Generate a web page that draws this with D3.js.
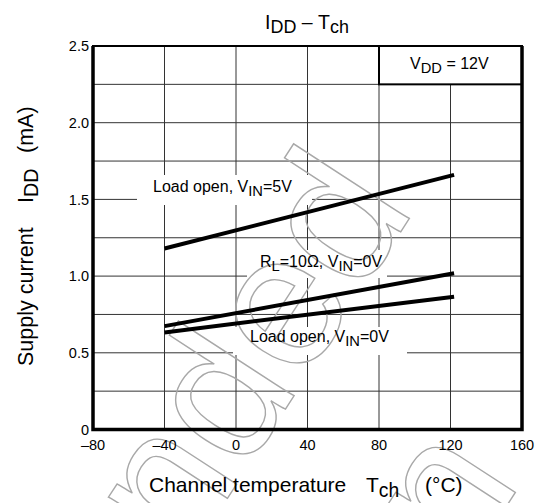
<!DOCTYPE html>
<html>
<head>
<meta charset="utf-8">
<script src="https://d3js.org/d3.v7.min.js"></script>
<style>
  body { margin: 0; background: #fff; }
  svg { font-family: "Liberation Sans", Arial, sans-serif; }
</style>
</head>
<body>
<div id="chart"></div>
<script>
// values
const temps = [-40, 122];
const loadOpen5V = [1.18, 1.66];
const rl10Ohm = [0.674, 1.018];
const loadOpen0V = [0.633, 0.866];

const xTicks = [-80, -40, 0, 40, 80, 120, 160];
const yTicks = [0, 0.25, 0.5, 0.75, 1.0, 1.25, 1.5, 1.75, 2.0, 2.25, 2.5];
const yLabels = [0, 0.5, 1.0, 1.5, 2.0, 2.5];

const W = 539, H = 503;
const m = { left: 93, right: 17, top: 46, bottom: 73.5 };

const svg = d3.select("#chart").append("svg")
    .attr("width", W).attr("height", H);

const x = d3.scaleLinear().domain([-80, 160]).range([m.left, W - m.right]);
const y = d3.scaleLinear().domain([0, 2.5]).range([H - m.bottom, m.top]);

// grid
const grid = svg.append("g").attr("stroke", "#333").attr("stroke-width", 1);
grid.selectAll("line.v").data(xTicks.slice(1, -1)).join("line")
    .attr("x1", d => x(d)).attr("x2", d => x(d))
    .attr("y1", y(0)).attr("y2", y(2.5));
grid.selectAll("line.h").data(yTicks.slice(1, -1)).join("line")
    .attr("x1", x(-80)).attr("x2", x(160))
    .attr("y1", d => y(d)).attr("y2", d => y(d));

// white boxes behind labels (they hide the grid)
const boxes = [
  [137, 175, 175, 30],
  [247, 250, 140, 28],
  [233, 327, 174, 28]
];
svg.selectAll("rect.lbl").data(boxes).join("rect")
    .attr("x", d => d[0]).attr("y", d => d[1])
    .attr("width", d => d[2]).attr("height", d => d[3])
    .attr("fill", "#fff");

// watermark (outlined, light grey)
const wm = svg.append("g")
    .attr("fill", "none").attr("stroke", "#a8a8a8").attr("stroke-width", 1.4)
    .attr("font-size", 190).attr("text-anchor", "end");
wm.append("text").attr("transform", "translate(416,208) rotate(-57)")
    .text("Not recommended");
wm.append("text").attr("transform", "translate(522,482) rotate(-57)")
    .text("for new design");

// VDD box
svg.append("rect")
    .attr("x", x(80)).attr("y", y(2.5))
    .attr("width", x(160) - x(80)).attr("height", y(2.25) - y(2.5))
    .attr("fill", "#fff").attr("stroke", "#000").attr("stroke-width", 2);

// frame
svg.append("rect")
    .attr("x", x(-80)).attr("y", y(2.5))
    .attr("width", x(160) - x(-80)).attr("height", y(0) - y(2.5))
    .attr("fill", "none").attr("stroke", "#000").attr("stroke-width", 2);
svg.append("path")
    .attr("d", `M${x(-80)},${y(2.5)}V${y(0)}H${x(160)}V${y(2.5)}`)
    .attr("fill", "none").attr("stroke", "#000").attr("stroke-width", 3.5);

// curves
const line = d3.line().x(d => x(d[0])).y(d => y(d[1]));
[loadOpen5V, rl10Ohm, loadOpen0V].forEach(s => {
  svg.append("path")
      .attr("d", line(temps.map((t, i) => [t, s[i]])))
      .attr("fill", "none").attr("stroke", "#000").attr("stroke-width", 4);
});

// tick labels
svg.append("g").selectAll("text").data(yLabels).join("text")
    .attr("x", m.left - 4).attr("y", d => y(d)).attr("dy", "0.36em")
    .attr("text-anchor", "end").attr("font-size", 14.5)
    .text(d => d === 0 ? "0" : d.toFixed(1));
svg.append("g").selectAll("text").data(xTicks).join("text")
    .attr("x", d => x(d)).attr("y", y(0) + 20.5)
    .attr("text-anchor", "middle").attr("font-size", 14.5)
    .text(d => d < 0 ? "\u2013" + Math.abs(d) : d);

// helper for text with subscripts: parts = [[text, sub?, back?], ...]
function richText(sel, parts, size) {
  parts.forEach(p => {
    const t = sel.append("tspan").text(p[0]);
    if (p[1]) t.attr("font-size", size * 0.92).attr("dy", size * 0.22);
    else if (p[2]) t.attr("dy", -size * 0.22);
  });
  return sel;
}

// title
richText(svg.append("text").attr("x", 265).attr("y", 29).attr("font-size", 19.5),
  [["I"], ["DD", 1], ["\u00a0\u2013\u00a0T", 0, 1], ["ch", 1]], 19.5);

// y axis label (pieces placed like in the reference)
const yl = svg.append("g").attr("transform", "translate(33,0) rotate(-90)")
    .attr("font-size", 21.5);
yl.append("text").attr("x", -366).text("Supply current");
richText(yl.append("text").attr("x", -203), [["I"], ["DD", 1]], 21.5);
yl.append("text").attr("x", -153).text("(mA)");

// x axis label
const xl = svg.append("g").attr("font-size", 21);
xl.append("text").attr("x", 149).attr("y", 492).text("Channel temperature");
richText(xl.append("text").attr("x", 366).attr("y", 492), [["T"], ["ch", 1]], 21);
xl.append("text").attr("x", 425).attr("y", 492).text("(\u00b0C)");

// curve labels
richText(svg.append("text").attr("x", 153).attr("y", 192).attr("font-size", 16),
  [["Load open, V"], ["IN", 1], ["=5V", 0, 1]], 16);
richText(svg.append("text").attr("x", 260).attr("y", 267).attr("font-size", 16),
  [["R"], ["L", 1], ["=10\u03a9, V", 0, 1], ["IN", 1], ["=0V", 0, 1]], 16);
richText(svg.append("text").attr("x", 250).attr("y", 342).attr("font-size", 16),
  [["Load open, V"], ["IN", 1], ["=0V", 0, 1]], 16);
richText(svg.append("text").attr("x", 410).attr("y", 69).attr("font-size", 16),
  [["V"], ["DD", 1], ["\u00a0=\u00a012V", 0, 1]], 16);
</script>
</body>
</html>
